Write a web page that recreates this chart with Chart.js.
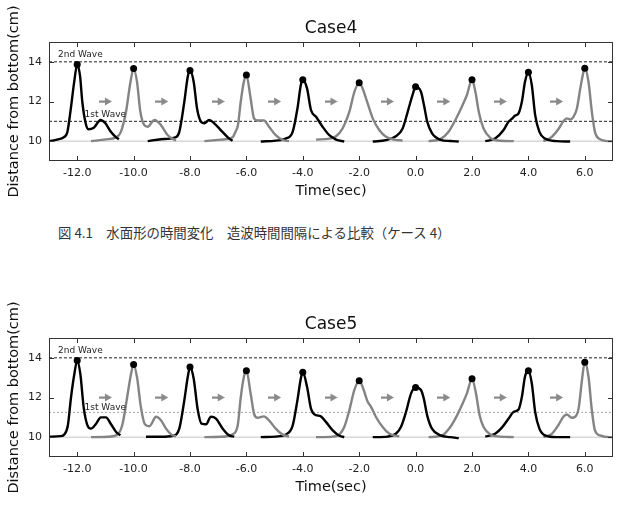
<!DOCTYPE html>
<html>
<head>
<meta charset="utf-8">
<script src="https://cdn.jsdelivr.net/npm/chart.js@4.4.1/dist/chart.umd.min.js"></script>
<style>
  body { margin: 0; background: #fff; width: 618px; height: 514px; position: relative; overflow: hidden; }
  .box { position: absolute; left: 0; width: 618px; height: 200px; }
  #caption { position: absolute; left: 58px; top: 222px; font: 13.4px "Noto Sans CJK JP"; color: #333; white-space: pre; }
</style>
</head>
<body>
<div class="box" style="top:0"><canvas id="case4Chart" width="618" height="200"></canvas></div>
<div id="caption">図 4.1　水面形の時間変化　造波時間間隔による比較（ケース 4）</div>
<div class="box" style="top:296px"><canvas id="case5Chart" width="618" height="200"></canvas></div>

<script>
// Tick labels
const xTicks = [-12, -10, -8, -6, -4, -2, 0, 2, 4, 6];
const yTicks = [10, 12, 14];

// Peak positions (black dots)
const peakTimes = [-12, -10, -8, -6, -4, -2, 0, 2, 4, 6];
const case4PeakHeights = [13.86, 13.66, 13.56, 13.33, 13.1, 12.94, 12.74, 13.1, 13.47, 13.68];
const case5PeakHeights = [13.86, 13.66, 13.54, 13.35, 13.27, 12.85, 12.51, 12.94, 13.35, 13.78];

// Grey arrows between the waves
const arrowTimes = [-11, -9, -7, -5, -3, -1, 1, 3, 5];
const arrowLevel = 12;

// Reference levels
const baseLevel = 10;
const secondWaveLevel = 14;
const case4FirstWaveLevel = 11;
const case5FirstWaveLevel = 11.25;

// Water surface curves, [time, height] pairs, alternately black / grey
const case4Curves = [
  [[-13,10.0],[-12.65,10.1],[-12.47,10.2],[-12.35,10.45],[-12.23,11.6],[-12.11,12.95],[-12.0,13.86],[-11.9,13.3],[-11.82,12.0],[-11.7,10.9],[-11.6,10.6],[-11.41,10.68],[-11.17,11.07],[-11.0,10.9],[-10.82,10.5],[-10.64,10.22],[-10.52,10.1]],
  [[-11.51,10.0],[-10.98,10.09],[-10.62,10.19],[-10.45,10.47],[-10.27,11.48],[-10.11,13.0],[-10.0,13.66],[-9.88,13.0],[-9.76,11.48],[-9.62,10.81],[-9.5,10.73],[-9.26,11.07],[-9.03,10.81],[-8.79,10.3],[-8.5,10.02]],
  [[-9.5,10.0],[-9.03,10.1],[-8.55,10.18],[-8.38,10.47],[-8.2,12.0],[-8.08,13.25],[-8.0,13.56],[-7.87,13.0],[-7.75,11.65],[-7.61,10.98],[-7.49,10.9],[-7.32,11.07],[-7.14,10.9],[-6.85,10.47],[-6.61,10.13],[-6.49,10.02]],
  [[-7.49,10.0],[-6.9,10.08],[-6.49,10.2],[-6.38,10.5],[-6.3,10.8],[-6.2,12.0],[-6.09,13.0],[-6.0,13.33],[-5.85,12.16],[-5.73,11.15],[-5.61,11.04],[-5.38,11.04],[-5.2,10.73],[-4.96,10.3],[-4.73,10.07],[-4.49,10.0]],
  [[-5.49,9.98],[-4.96,10.03],[-4.6,10.13],[-4.36,10.47],[-4.19,11.65],[-4.07,12.83],[-4.0,13.1],[-3.85,12.66],[-3.71,11.57],[-3.53,11.23],[-3.3,10.73],[-3.06,10.3],[-2.82,10.08],[-2.53,9.98]],
  [[-3.53,10.08],[-3.06,10.13],[-2.82,10.25],[-2.59,10.64],[-2.35,11.48],[-2.17,12.49],[-2.0,12.94],[-1.88,12.66],[-1.7,11.9],[-1.52,11.15],[-1.29,10.56],[-1.05,10.22],[-0.76,10.08],[-0.46,10.03]],
  [[-1.52,9.98],[-1.05,10.05],[-0.7,10.25],[-0.46,10.64],[-0.28,11.48],[-0.11,12.32],[0.0,12.74],[0.19,12.49],[0.3,11.8],[0.41,11.0],[0.58,10.4],[0.88,10.07],[1.23,10.01],[1.53,9.98]],
  [[0.46,10.0],[0.88,10.1],[1.17,10.47],[1.41,11.07],[1.64,11.74],[1.82,12.33],[2.0,13.1],[2.12,12.49],[2.24,11.48],[2.41,10.64],[2.65,10.17],[3.0,10.02],[3.48,10.0]],
  [[2.47,10.0],[2.82,10.13],[3.12,10.56],[3.3,10.99],[3.41,11.12],[3.53,11.29],[3.65,11.4],[3.77,12.0],[3.88,13.0],[4.0,13.47],[4.12,12.83],[4.24,11.31],[4.39,10.47],[4.59,10.13],[5.0,10.0],[5.48,9.98]],
  [[4.53,10.0],[4.83,10.22],[5.06,10.6],[5.24,11.0],[5.36,11.15],[5.48,11.1],[5.6,11.23],[5.72,11.65],[5.84,12.66],[5.93,13.34],[6.0,13.68],[6.13,13.0],[6.25,11.48],[6.36,10.47],[6.54,10.1],[6.9,10.0],[7.0,10.0]]
];

const case5Curves = [
  [[-13,10.02],[-12.6,10.05],[-12.45,10.15],[-12.33,10.6],[-12.22,12.0],[-12.1,13.2],[-12.0,13.86],[-11.89,13.2],[-11.77,11.5],[-11.65,10.65],[-11.51,10.43],[-11.33,10.68],[-11.16,11.0],[-10.98,11.0],[-10.8,10.65],[-10.62,10.26],[-10.47,10.09]],
  [[-11.51,10.0],[-10.92,10.02],[-10.56,10.15],[-10.39,10.68],[-10.23,12.0],[-10.09,13.2],[-10.0,13.66],[-9.88,13.03],[-9.74,11.5],[-9.6,10.65],[-9.44,10.55],[-9.2,11.03],[-9.03,10.85],[-8.85,10.43],[-8.67,10.14],[-8.5,10.03]],
  [[-9.56,10.02],[-9.03,10.02],[-8.61,10.07],[-8.38,10.43],[-8.2,11.87],[-8.08,13.03],[-8.0,13.54],[-7.87,12.96],[-7.73,11.42],[-7.59,10.68],[-7.43,10.65],[-7.26,11.03],[-7.08,10.94],[-6.84,10.43],[-6.61,10.09],[-6.43,10.03]],
  [[-7.49,10.0],[-6.9,10.02],[-6.49,10.15],[-6.31,10.58],[-6.2,12.0],[-6.09,13.03],[-6.0,13.35],[-5.85,12.2],[-5.73,11.19],[-5.61,10.98],[-5.38,11.05],[-5.2,10.85],[-4.96,10.43],[-4.73,10.14],[-4.49,10.03]],
  [[-5.49,10.0],[-4.96,10.03],[-4.6,10.14],[-4.36,10.58],[-4.19,11.87],[-4.07,12.96],[-4.0,13.27],[-3.85,12.54],[-3.71,11.44],[-3.59,11.15],[-3.36,11.05],[-3.18,10.77],[-2.94,10.34],[-2.7,10.07],[-2.53,10.0]],
  [[-3.53,10.0],[-2.94,10.03],[-2.7,10.14],[-2.53,10.51],[-2.35,11.36],[-2.17,12.38],[-2.0,12.85],[-1.84,12.38],[-1.7,11.78],[-1.58,11.53],[-1.41,11.03],[-1.17,10.51],[-0.93,10.17],[-0.58,10.03]],
  [[-1.52,10.0],[-0.99,10.03],[-0.7,10.17],[-0.52,10.51],[-0.34,11.27],[-0.16,12.21],[0.0,12.51],[0.19,12.38],[0.29,11.95],[0.41,11.1],[0.58,10.43],[0.88,10.09],[1.23,10.0],[1.53,9.95]],
  [[0.46,10.0],[0.94,10.09],[1.23,10.51],[1.47,11.1],[1.64,11.61],[1.82,12.21],[2.0,12.94],[2.14,12.21],[2.27,11.1],[2.41,10.51],[2.65,10.14],[3.0,10.03],[3.48,10.0]],
  [[2.47,10.03],[2.82,10.17],[3.06,10.48],[3.3,10.94],[3.47,11.27],[3.65,11.39],[3.77,12.04],[3.88,13.06],[4.0,13.35],[4.12,12.72],[4.24,11.27],[4.39,10.43],[4.59,10.09],[5.0,10.0],[5.48,10.0]],
  [[4.53,10.0],[4.83,10.17],[5.06,10.6],[5.24,11.03],[5.36,11.14],[5.54,10.98],[5.66,11.03],[5.78,11.44],[5.9,12.89],[6.0,13.78],[6.13,13.06],[6.25,11.36],[6.36,10.34],[6.54,10.09],[6.9,10.0],[7.0,10.0]]
];

const xMin = -13, xMax = 7, yMin = 9, yMax = 15;
const FONT = '"DejaVu Sans", sans-serif';

// small grey arrow used as point style
function makeArrow() {
  const c = document.createElement('canvas');
  c.width = 13; c.height = 9;
  const g = c.getContext('2d');
  g.fillStyle = '#8a8a8a';
  g.fillRect(0, 3.5, 7, 2.2);
  g.beginPath();
  g.moveTo(6, 0.5);
  g.lineTo(13, 4.5);
  g.lineTo(6, 8.5);
  g.closePath();
  g.fill();
  return c;
}
const arrowImg = makeArrow();

// frame, inward ticks, title and wave labels
const framePlugin = {
  id: 'frame',
  afterDraw(chart, args, opts) {
    const { ctx, chartArea: a, scales: { x, y } } = chart;
    ctx.save();
    ctx.strokeStyle = '#333';
    ctx.lineWidth = 1;
    ctx.strokeRect(a.left + 0.5, a.top + 0.5, a.right - a.left - 1, a.bottom - a.top - 1);
    ctx.beginPath();
    xTicks.forEach(v => {
      const px = Math.round(x.getPixelForValue(v)) + 0.5;
      ctx.moveTo(px, a.top); ctx.lineTo(px, a.top + 5);
      ctx.moveTo(px, a.bottom); ctx.lineTo(px, a.bottom - 5);
    });
    yTicks.forEach(v => {
      const py = Math.round(y.getPixelForValue(v)) + 0.5;
      ctx.moveTo(a.left, py); ctx.lineTo(a.left + 5, py);
      ctx.moveTo(a.right, py); ctx.lineTo(a.right - 5, py);
    });
    ctx.stroke();

    ctx.fillStyle = '#111';
    ctx.font = '17px ' + FONT;
    ctx.textAlign = 'center';
    ctx.textBaseline = 'alphabetic';
    ctx.fillText(opts.title, (a.left + a.right) / 2, 33);

    ctx.font = '9px ' + FONT;
    ctx.textAlign = 'left';
    ctx.textBaseline = 'middle';
    ctx.fillStyle = '#222';
    opts.labels.forEach(l => {
      ctx.fillText(l.text, x.getPixelForValue(l.t), y.getPixelForValue(l.h));
    });
    ctx.restore();
  }
};

function levelLine(level, color, dash) {
  return {
    data: [{ x: xMin, y: level }, { x: xMax, y: level }],
    borderColor: color, borderWidth: 1, borderDash: dash,
    pointRadius: 0, order: 2
  };
}

function buildChart(canvasId, title, curves, peakHeights, firstLevel, firstStyle, firstLabelH) {
  const datasets = [];
  datasets.push(levelLine(baseLevel, '#c4c4c4', []));
  datasets.push(levelLine(secondWaveLevel, '#222', [3, 2]));
  datasets.push(levelLine(firstLevel, firstStyle.color, firstStyle.dash));

  curves.forEach((curve, i) => {
    datasets.push({
      data: curve.map(p => ({ x: p[0], y: p[1] })),
      borderColor: i % 2 === 0 ? '#000' : '#848484',
      borderWidth: 2.4,
      pointRadius: 0,
      cubicInterpolationMode: 'monotone',
      borderJoinStyle: 'round',
      order: 1
    });
  });

  datasets.push({
    data: peakTimes.map((t, i) => ({ x: t, y: peakHeights[i] })),
    showLine: false,
    pointRadius: 3.5,
    pointBackgroundColor: '#000',
    pointBorderWidth: 0,
    order: 0
  });

  datasets.push({
    data: arrowTimes.map(t => ({ x: t, y: arrowLevel })),
    showLine: false,
    pointStyle: arrowImg,
    order: 0
  });

  return new Chart(document.getElementById(canvasId), {
    type: 'line',
    data: { datasets: datasets },
    plugins: [framePlugin],
    options: {
      responsive: false,
      animation: false,
      events: [],
      layout: { padding: { top: 42, right: 5, left: 0, bottom: 0 } },
      plugins: {
        legend: { display: false },
        tooltip: { enabled: false },
        frame: {
          title: title,
          labels: [
            { text: '2nd Wave', t: -12.68, h: 14.35 },
            { text: '1st Wave', t: -11.74, h: firstLabelH }
          ]
        }
      },
      scales: {
        x: {
          type: 'linear', min: xMin, max: xMax,
          afterBuildTicks: s => { s.ticks = xTicks.map(v => ({ value: v })); },
          afterFit: s => { s.height = 39; },
          grid: { display: false, drawTicks: false },
          border: { display: false },
          ticks: {
            callback: v => v.toFixed(1),
            font: { family: FONT, size: 11 }, color: '#222',
            padding: 6, maxRotation: 0, autoSkip: false
          },
          title: {
            display: true, text: 'Time(sec)',
            font: { family: FONT, size: 14.5 }, color: '#111',
            padding: { top: 0, bottom: 0 }
          }
        },
        y: {
          min: yMin, max: yMax,
          afterBuildTicks: s => { s.ticks = yTicks.map(v => ({ value: v })); },
          afterFit: s => { s.width = 49; },
          grid: { display: false, drawTicks: false },
          border: { display: false },
          ticks: {
            callback: v => String(v),
            font: { family: FONT, size: 11 }, color: '#222',
            padding: 7
          },
          title: {
            display: true, text: 'Distance from bottom(cm)',
            font: { family: FONT, size: 14.5 }, color: '#111',
            padding: { top: 6, bottom: 0 }
          }
        }
      }
    }
  });
}

buildChart('case4Chart', 'Case4', case4Curves, case4PeakHeights,
  case4FirstWaveLevel, { color: '#222', dash: [3, 2] }, 11.35);
buildChart('case5Chart', 'Case5', case5Curves, case5PeakHeights,
  case5FirstWaveLevel, { color: '#a8a8a8', dash: [2, 2] }, 11.5);
</script>
</body>
</html>
